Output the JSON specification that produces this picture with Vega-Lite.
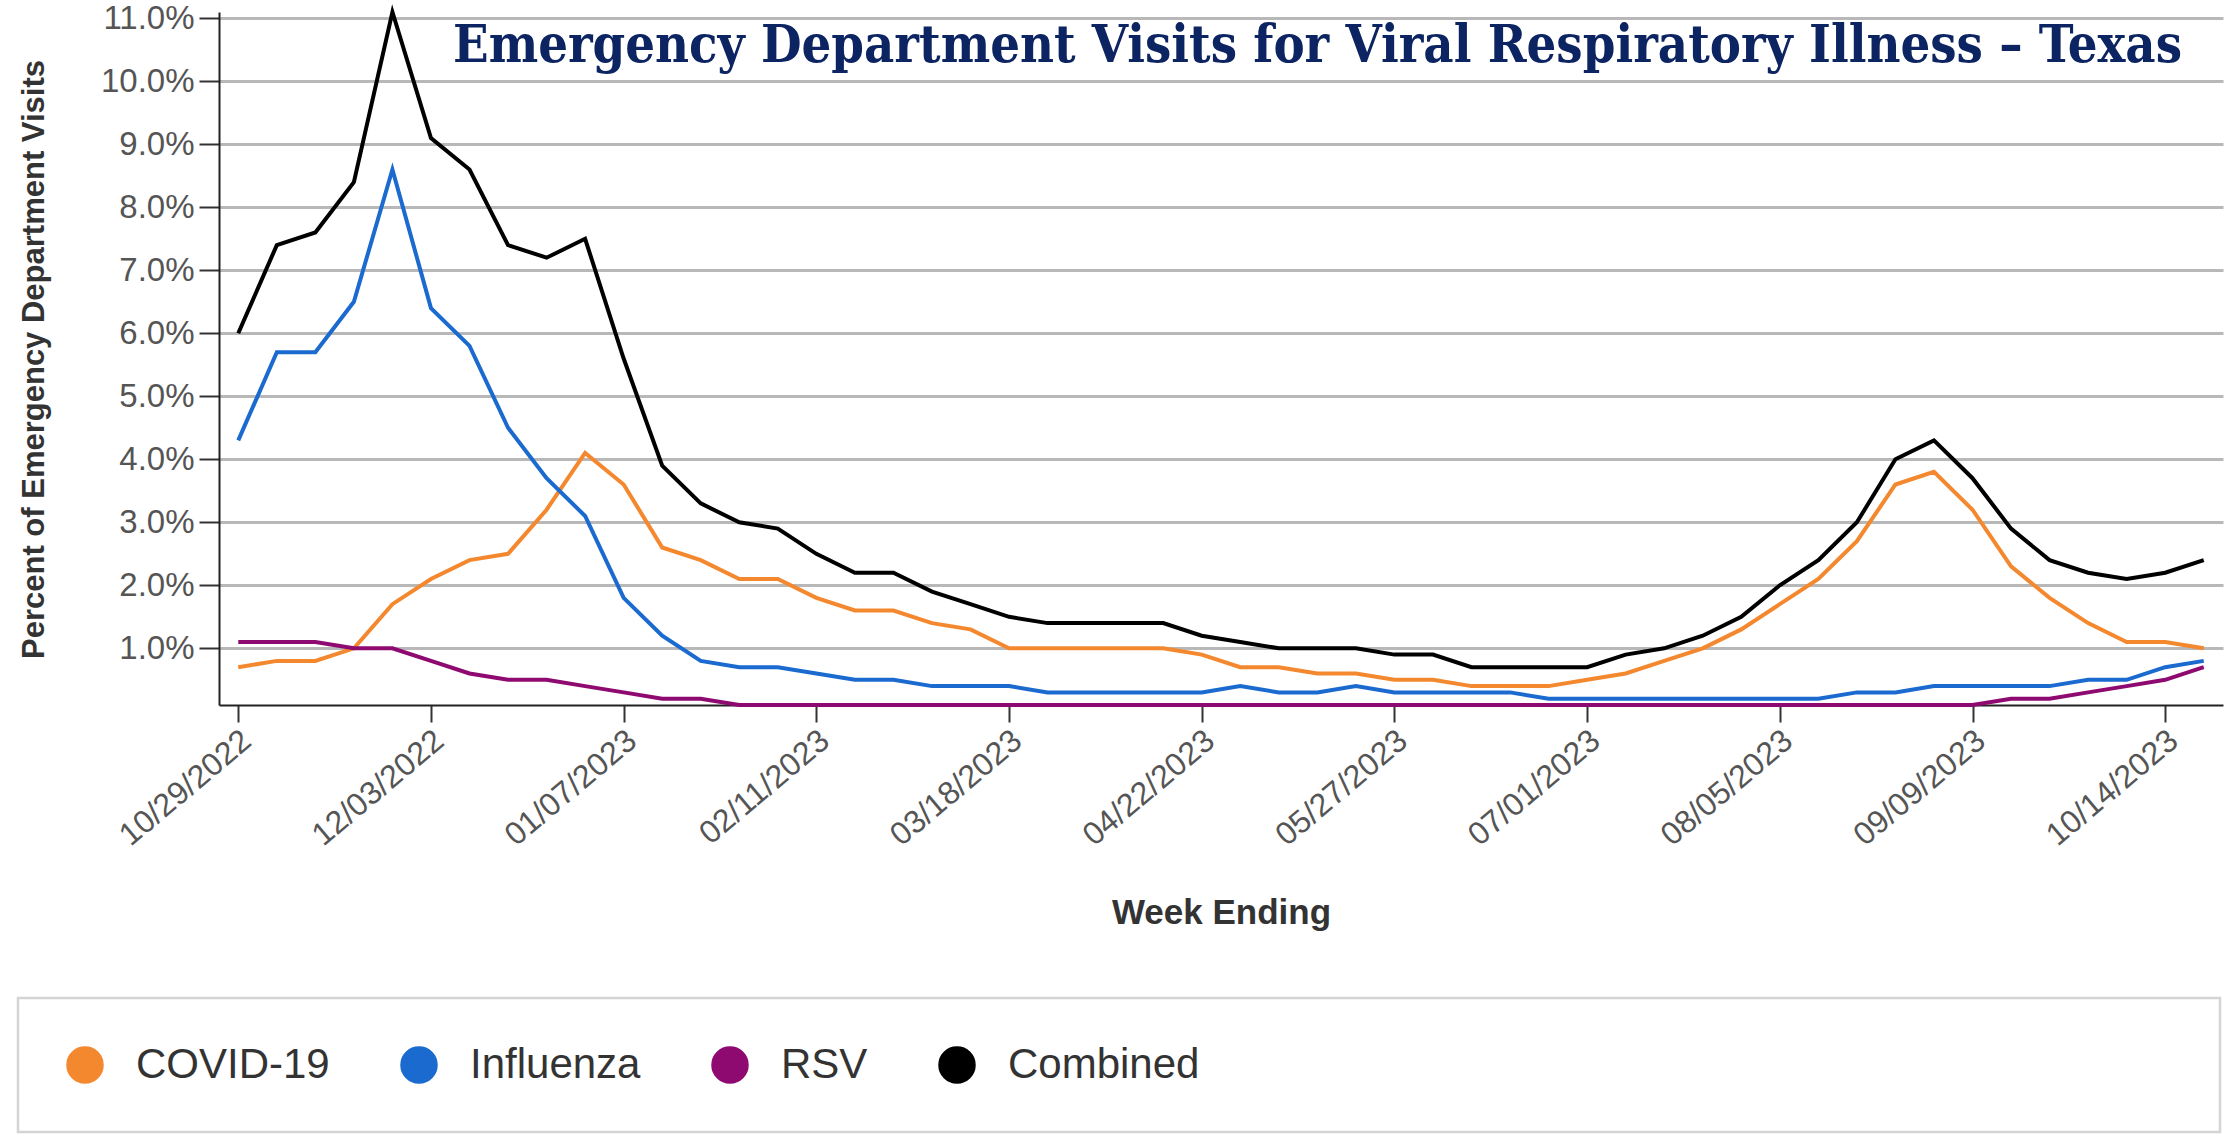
{
  "$schema": "https://vega.github.io/schema/vega-lite/v6.json",
  "width": 2004,
  "height": 693,
  "autosize": {"type": "none"},
  "padding": {"left": 219, "top": 12, "right": 14, "bottom": 431},
  "background": "white",
  "title": {
    "text": "Emergency Department Visits for Viral Respiratory Illness – Texas",
    "font": "DejaVu Serif Condensed",
    "fontSize": 52,
    "fontWeight": "bold",
    "color": "#0C2461",
    "anchor": "end",
    "frame": "group",
    "orient": "top",
    "baseline": "alphabetic",
    "offset": 0,
    "dx": -41,
    "dy": 112
  },
  "datasets": {
    "viral": [
      {"week": "2022/10/29", "series": "COVID-19", "pct": 0.7}, {"week": "2022/11/05", "series": "COVID-19", "pct": 0.8}, {"week": "2022/11/12", "series": "COVID-19", "pct": 0.8}, {"week": "2022/11/19", "series": "COVID-19", "pct": 1.0}, {"week": "2022/11/26", "series": "COVID-19", "pct": 1.7}, {"week": "2022/12/03", "series": "COVID-19", "pct": 2.1}, {"week": "2022/12/10", "series": "COVID-19", "pct": 2.4}, {"week": "2022/12/17", "series": "COVID-19", "pct": 2.5}, {"week": "2022/12/24", "series": "COVID-19", "pct": 3.2}, {"week": "2022/12/31", "series": "COVID-19", "pct": 4.1},
      {"week": "2023/01/07", "series": "COVID-19", "pct": 3.6}, {"week": "2023/01/14", "series": "COVID-19", "pct": 2.6}, {"week": "2023/01/21", "series": "COVID-19", "pct": 2.4}, {"week": "2023/01/28", "series": "COVID-19", "pct": 2.1}, {"week": "2023/02/04", "series": "COVID-19", "pct": 2.1}, {"week": "2023/02/11", "series": "COVID-19", "pct": 1.8}, {"week": "2023/02/18", "series": "COVID-19", "pct": 1.6}, {"week": "2023/02/25", "series": "COVID-19", "pct": 1.6}, {"week": "2023/03/04", "series": "COVID-19", "pct": 1.4}, {"week": "2023/03/11", "series": "COVID-19", "pct": 1.3},
      {"week": "2023/03/18", "series": "COVID-19", "pct": 1.0}, {"week": "2023/03/25", "series": "COVID-19", "pct": 1.0}, {"week": "2023/04/01", "series": "COVID-19", "pct": 1.0}, {"week": "2023/04/08", "series": "COVID-19", "pct": 1.0}, {"week": "2023/04/15", "series": "COVID-19", "pct": 1.0}, {"week": "2023/04/22", "series": "COVID-19", "pct": 0.9}, {"week": "2023/04/29", "series": "COVID-19", "pct": 0.7}, {"week": "2023/05/06", "series": "COVID-19", "pct": 0.7}, {"week": "2023/05/13", "series": "COVID-19", "pct": 0.6}, {"week": "2023/05/20", "series": "COVID-19", "pct": 0.6},
      {"week": "2023/05/27", "series": "COVID-19", "pct": 0.5}, {"week": "2023/06/03", "series": "COVID-19", "pct": 0.5}, {"week": "2023/06/10", "series": "COVID-19", "pct": 0.4}, {"week": "2023/06/17", "series": "COVID-19", "pct": 0.4}, {"week": "2023/06/24", "series": "COVID-19", "pct": 0.4}, {"week": "2023/07/01", "series": "COVID-19", "pct": 0.5}, {"week": "2023/07/08", "series": "COVID-19", "pct": 0.6}, {"week": "2023/07/15", "series": "COVID-19", "pct": 0.8}, {"week": "2023/07/22", "series": "COVID-19", "pct": 1.0}, {"week": "2023/07/29", "series": "COVID-19", "pct": 1.3},
      {"week": "2023/08/05", "series": "COVID-19", "pct": 1.7}, {"week": "2023/08/12", "series": "COVID-19", "pct": 2.1}, {"week": "2023/08/19", "series": "COVID-19", "pct": 2.7}, {"week": "2023/08/26", "series": "COVID-19", "pct": 3.6}, {"week": "2023/09/02", "series": "COVID-19", "pct": 3.8}, {"week": "2023/09/09", "series": "COVID-19", "pct": 3.2}, {"week": "2023/09/16", "series": "COVID-19", "pct": 2.3}, {"week": "2023/09/23", "series": "COVID-19", "pct": 1.8}, {"week": "2023/09/30", "series": "COVID-19", "pct": 1.4}, {"week": "2023/10/07", "series": "COVID-19", "pct": 1.1},
      {"week": "2023/10/14", "series": "COVID-19", "pct": 1.1}, {"week": "2023/10/21", "series": "COVID-19", "pct": 1.0},

      {"week": "2022/10/29", "series": "Influenza", "pct": 4.3}, {"week": "2022/11/05", "series": "Influenza", "pct": 5.7}, {"week": "2022/11/12", "series": "Influenza", "pct": 5.7}, {"week": "2022/11/19", "series": "Influenza", "pct": 6.5}, {"week": "2022/11/26", "series": "Influenza", "pct": 8.6}, {"week": "2022/12/03", "series": "Influenza", "pct": 6.4}, {"week": "2022/12/10", "series": "Influenza", "pct": 5.8}, {"week": "2022/12/17", "series": "Influenza", "pct": 4.5}, {"week": "2022/12/24", "series": "Influenza", "pct": 3.7}, {"week": "2022/12/31", "series": "Influenza", "pct": 3.1},
      {"week": "2023/01/07", "series": "Influenza", "pct": 1.8}, {"week": "2023/01/14", "series": "Influenza", "pct": 1.2}, {"week": "2023/01/21", "series": "Influenza", "pct": 0.8}, {"week": "2023/01/28", "series": "Influenza", "pct": 0.7}, {"week": "2023/02/04", "series": "Influenza", "pct": 0.7}, {"week": "2023/02/11", "series": "Influenza", "pct": 0.6}, {"week": "2023/02/18", "series": "Influenza", "pct": 0.5}, {"week": "2023/02/25", "series": "Influenza", "pct": 0.5}, {"week": "2023/03/04", "series": "Influenza", "pct": 0.4}, {"week": "2023/03/11", "series": "Influenza", "pct": 0.4},
      {"week": "2023/03/18", "series": "Influenza", "pct": 0.4}, {"week": "2023/03/25", "series": "Influenza", "pct": 0.3}, {"week": "2023/04/01", "series": "Influenza", "pct": 0.3}, {"week": "2023/04/08", "series": "Influenza", "pct": 0.3}, {"week": "2023/04/15", "series": "Influenza", "pct": 0.3}, {"week": "2023/04/22", "series": "Influenza", "pct": 0.3}, {"week": "2023/04/29", "series": "Influenza", "pct": 0.4}, {"week": "2023/05/06", "series": "Influenza", "pct": 0.3}, {"week": "2023/05/13", "series": "Influenza", "pct": 0.3}, {"week": "2023/05/20", "series": "Influenza", "pct": 0.4},
      {"week": "2023/05/27", "series": "Influenza", "pct": 0.3}, {"week": "2023/06/03", "series": "Influenza", "pct": 0.3}, {"week": "2023/06/10", "series": "Influenza", "pct": 0.3}, {"week": "2023/06/17", "series": "Influenza", "pct": 0.3}, {"week": "2023/06/24", "series": "Influenza", "pct": 0.2}, {"week": "2023/07/01", "series": "Influenza", "pct": 0.2}, {"week": "2023/07/08", "series": "Influenza", "pct": 0.2}, {"week": "2023/07/15", "series": "Influenza", "pct": 0.2}, {"week": "2023/07/22", "series": "Influenza", "pct": 0.2}, {"week": "2023/07/29", "series": "Influenza", "pct": 0.2},
      {"week": "2023/08/05", "series": "Influenza", "pct": 0.2}, {"week": "2023/08/12", "series": "Influenza", "pct": 0.2}, {"week": "2023/08/19", "series": "Influenza", "pct": 0.3}, {"week": "2023/08/26", "series": "Influenza", "pct": 0.3}, {"week": "2023/09/02", "series": "Influenza", "pct": 0.4}, {"week": "2023/09/09", "series": "Influenza", "pct": 0.4}, {"week": "2023/09/16", "series": "Influenza", "pct": 0.4}, {"week": "2023/09/23", "series": "Influenza", "pct": 0.4}, {"week": "2023/09/30", "series": "Influenza", "pct": 0.5}, {"week": "2023/10/07", "series": "Influenza", "pct": 0.5},
      {"week": "2023/10/14", "series": "Influenza", "pct": 0.7}, {"week": "2023/10/21", "series": "Influenza", "pct": 0.8},

      {"week": "2022/10/29", "series": "RSV", "pct": 1.1}, {"week": "2022/11/05", "series": "RSV", "pct": 1.1}, {"week": "2022/11/12", "series": "RSV", "pct": 1.1}, {"week": "2022/11/19", "series": "RSV", "pct": 1.0}, {"week": "2022/11/26", "series": "RSV", "pct": 1.0}, {"week": "2022/12/03", "series": "RSV", "pct": 0.8}, {"week": "2022/12/10", "series": "RSV", "pct": 0.6}, {"week": "2022/12/17", "series": "RSV", "pct": 0.5}, {"week": "2022/12/24", "series": "RSV", "pct": 0.5}, {"week": "2022/12/31", "series": "RSV", "pct": 0.4},
      {"week": "2023/01/07", "series": "RSV", "pct": 0.3}, {"week": "2023/01/14", "series": "RSV", "pct": 0.2}, {"week": "2023/01/21", "series": "RSV", "pct": 0.2}, {"week": "2023/01/28", "series": "RSV", "pct": 0.1}, {"week": "2023/02/04", "series": "RSV", "pct": 0.1}, {"week": "2023/02/11", "series": "RSV", "pct": 0.1}, {"week": "2023/02/18", "series": "RSV", "pct": 0.1}, {"week": "2023/02/25", "series": "RSV", "pct": 0.1}, {"week": "2023/03/04", "series": "RSV", "pct": 0.1}, {"week": "2023/03/11", "series": "RSV", "pct": 0.1},
      {"week": "2023/03/18", "series": "RSV", "pct": 0.1}, {"week": "2023/03/25", "series": "RSV", "pct": 0.1}, {"week": "2023/04/01", "series": "RSV", "pct": 0.1}, {"week": "2023/04/08", "series": "RSV", "pct": 0.1}, {"week": "2023/04/15", "series": "RSV", "pct": 0.1}, {"week": "2023/04/22", "series": "RSV", "pct": 0.1}, {"week": "2023/04/29", "series": "RSV", "pct": 0.1}, {"week": "2023/05/06", "series": "RSV", "pct": 0.1}, {"week": "2023/05/13", "series": "RSV", "pct": 0.1}, {"week": "2023/05/20", "series": "RSV", "pct": 0.1},
      {"week": "2023/05/27", "series": "RSV", "pct": 0.1}, {"week": "2023/06/03", "series": "RSV", "pct": 0.1}, {"week": "2023/06/10", "series": "RSV", "pct": 0.1}, {"week": "2023/06/17", "series": "RSV", "pct": 0.1}, {"week": "2023/06/24", "series": "RSV", "pct": 0.1}, {"week": "2023/07/01", "series": "RSV", "pct": 0.1}, {"week": "2023/07/08", "series": "RSV", "pct": 0.1}, {"week": "2023/07/15", "series": "RSV", "pct": 0.1}, {"week": "2023/07/22", "series": "RSV", "pct": 0.1}, {"week": "2023/07/29", "series": "RSV", "pct": 0.1},
      {"week": "2023/08/05", "series": "RSV", "pct": 0.1}, {"week": "2023/08/12", "series": "RSV", "pct": 0.1}, {"week": "2023/08/19", "series": "RSV", "pct": 0.1}, {"week": "2023/08/26", "series": "RSV", "pct": 0.1}, {"week": "2023/09/02", "series": "RSV", "pct": 0.1}, {"week": "2023/09/09", "series": "RSV", "pct": 0.1}, {"week": "2023/09/16", "series": "RSV", "pct": 0.2}, {"week": "2023/09/23", "series": "RSV", "pct": 0.2}, {"week": "2023/09/30", "series": "RSV", "pct": 0.3}, {"week": "2023/10/07", "series": "RSV", "pct": 0.4},
      {"week": "2023/10/14", "series": "RSV", "pct": 0.5}, {"week": "2023/10/21", "series": "RSV", "pct": 0.7},

      {"week": "2022/10/29", "series": "Combined", "pct": 6.0}, {"week": "2022/11/05", "series": "Combined", "pct": 7.4}, {"week": "2022/11/12", "series": "Combined", "pct": 7.6}, {"week": "2022/11/19", "series": "Combined", "pct": 8.4}, {"week": "2022/11/26", "series": "Combined", "pct": 11.1}, {"week": "2022/12/03", "series": "Combined", "pct": 9.1}, {"week": "2022/12/10", "series": "Combined", "pct": 8.6}, {"week": "2022/12/17", "series": "Combined", "pct": 7.4}, {"week": "2022/12/24", "series": "Combined", "pct": 7.2}, {"week": "2022/12/31", "series": "Combined", "pct": 7.5},
      {"week": "2023/01/07", "series": "Combined", "pct": 5.6}, {"week": "2023/01/14", "series": "Combined", "pct": 3.9}, {"week": "2023/01/21", "series": "Combined", "pct": 3.3}, {"week": "2023/01/28", "series": "Combined", "pct": 3.0}, {"week": "2023/02/04", "series": "Combined", "pct": 2.9}, {"week": "2023/02/11", "series": "Combined", "pct": 2.5}, {"week": "2023/02/18", "series": "Combined", "pct": 2.2}, {"week": "2023/02/25", "series": "Combined", "pct": 2.2}, {"week": "2023/03/04", "series": "Combined", "pct": 1.9}, {"week": "2023/03/11", "series": "Combined", "pct": 1.7},
      {"week": "2023/03/18", "series": "Combined", "pct": 1.5}, {"week": "2023/03/25", "series": "Combined", "pct": 1.4}, {"week": "2023/04/01", "series": "Combined", "pct": 1.4}, {"week": "2023/04/08", "series": "Combined", "pct": 1.4}, {"week": "2023/04/15", "series": "Combined", "pct": 1.4}, {"week": "2023/04/22", "series": "Combined", "pct": 1.2}, {"week": "2023/04/29", "series": "Combined", "pct": 1.1}, {"week": "2023/05/06", "series": "Combined", "pct": 1.0}, {"week": "2023/05/13", "series": "Combined", "pct": 1.0}, {"week": "2023/05/20", "series": "Combined", "pct": 1.0},
      {"week": "2023/05/27", "series": "Combined", "pct": 0.9}, {"week": "2023/06/03", "series": "Combined", "pct": 0.9}, {"week": "2023/06/10", "series": "Combined", "pct": 0.7}, {"week": "2023/06/17", "series": "Combined", "pct": 0.7}, {"week": "2023/06/24", "series": "Combined", "pct": 0.7}, {"week": "2023/07/01", "series": "Combined", "pct": 0.7}, {"week": "2023/07/08", "series": "Combined", "pct": 0.9}, {"week": "2023/07/15", "series": "Combined", "pct": 1.0}, {"week": "2023/07/22", "series": "Combined", "pct": 1.2}, {"week": "2023/07/29", "series": "Combined", "pct": 1.5},
      {"week": "2023/08/05", "series": "Combined", "pct": 2.0}, {"week": "2023/08/12", "series": "Combined", "pct": 2.4}, {"week": "2023/08/19", "series": "Combined", "pct": 3.0}, {"week": "2023/08/26", "series": "Combined", "pct": 4.0}, {"week": "2023/09/02", "series": "Combined", "pct": 4.3}, {"week": "2023/09/09", "series": "Combined", "pct": 3.7}, {"week": "2023/09/16", "series": "Combined", "pct": 2.9}, {"week": "2023/09/23", "series": "Combined", "pct": 2.4}, {"week": "2023/09/30", "series": "Combined", "pct": 2.2}, {"week": "2023/10/07", "series": "Combined", "pct": 2.1},
      {"week": "2023/10/14", "series": "Combined", "pct": 2.2}, {"week": "2023/10/21", "series": "Combined", "pct": 2.4}
    ]
  },
  "data": {"name": "viral"},
  "mark": {"type": "line", "strokeWidth": 4, "interpolate": "linear"},
  "encoding": {
    "x": {
      "field": "week",
      "type": "temporal",
      "scale": {"domain": [{"year": 2022, "month": 10, "date": 25, "hours": 12}, {"year": 2023, "month": 10, "date": 24, "hours": 12}]},
      "axis": {
        "values": [
          {"year": 2022, "month": 10, "date": 29}, {"year": 2022, "month": 12, "date": 3}, {"year": 2023, "month": 1, "date": 7},
          {"year": 2023, "month": 2, "date": 11}, {"year": 2023, "month": 3, "date": 18}, {"year": 2023, "month": 4, "date": 22},
          {"year": 2023, "month": 5, "date": 27}, {"year": 2023, "month": 7, "date": 1}, {"year": 2023, "month": 8, "date": 5},
          {"year": 2023, "month": 9, "date": 9}, {"year": 2023, "month": 10, "date": 14}
        ],
        "format": "%m/%d/%Y",
        "grid": false,
        "labelAngle": -40,
        "labelAlign": "right",
        "labelBaseline": "middle",
        "labelFont": "Liberation Sans",
        "labelFontSize": 32,
        "labelColor": "#555555",
        "labelPadding": 14,
        "labelOffset": 8,
        "labelOverlap": false,
        "labelFlush": false,
        "tickSize": 17,
        "tickColor": "#333333",
        "tickWidth": 2,
        "domainColor": "#222222",
        "domainWidth": 2,
        "title": "Week Ending",
        "titleFont": "Liberation Sans",
        "titleFontSize": 35,
        "titleFontWeight": "bold",
        "titleColor": "#333333",
        "titleX": 1002,
        "titleY": 218,
        "titleAlign": "center",
        "titleBaseline": "alphabetic"
      }
    },
    "y": {
      "field": "pct",
      "type": "quantitative",
      "scale": {"domain": [0.1, 11.1], "nice": false, "zero": false},
      "axis": {
        "values": [1, 2, 3, 4, 5, 6, 7, 8, 9, 10, 11],
        "labelExpr": "format(datum.value, '.1f') + '%'",
        "labelFont": "Liberation Sans",
        "labelFontSize": 33,
        "labelColor": "#555555",
        "labelPadding": 5,
        "tickSize": 20,
        "tickColor": "#333333",
        "tickWidth": 2,
        "domainColor": "#222222",
        "domainWidth": 2,
        "grid": true,
        "gridColor": "#b8b8b8",
        "gridWidth": 3,
        "title": "Percent of Emergency Department Visits",
        "titleFont": "Liberation Sans",
        "titleFontSize": 31,
        "titleFontWeight": "bold",
        "titleColor": "#333333",
        "titleAngle": -90,
        "titleX": -176,
        "titleY": 347,
        "titleAlign": "center",
        "titleBaseline": "alphabetic"
      }
    },
    "color": {
      "field": "series",
      "type": "nominal",
      "scale": {
        "domain": ["COVID-19", "Influenza", "RSV", "Combined"],
        "range": ["#F4882F", "#1A6ACF", "#8E0A70", "#000000"]
      },
      "legend": {
        "orient": "none",
        "legendX": -201,
        "legendY": 986,
        "direction": "horizontal",
        "title": "MMMMMMMMMMMMMMMMMMMMMMMMMMMMMM",
        "titleOrient": "right",
        "titleFont": "Liberation Sans",
        "titleFontSize": 39,
        "titleFontWeight": "normal",
        "titleOpacity": 0,
        "titleLimit": 3000,
        "titlePadding": 0,
        "symbolType": "circle",
        "symbolSize": 1296,
        "symbolStrokeWidth": 1.5,
        "labelFont": "Liberation Sans",
        "labelFontSize": 42,
        "labelColor": "#333333",
        "labelOffset": 30,
        "labelLimit": 3000,
        "columnPadding": 68,
        "padding": 46,
        "strokeColor": "#d4d4d4",
        "fillColor": "#ffffff",
        "encode": {
          "symbols": {"update": {"fill": {"scale": "color", "field": "value"}, "fillOpacity": {"value": 1}}},
          "legend": {"update": {"strokeWidth": {"value": 2.5}}}
        }
      }
    }
  },
  "config": {"view": {"stroke": null}}
}
